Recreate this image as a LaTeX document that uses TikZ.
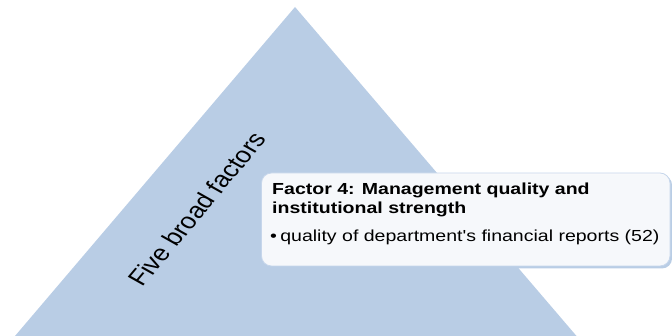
\documentclass[tikz,border=0pt]{standalone}
\usepackage{fontspec}
\setmainfont{Liberation Sans}
\definecolor{triblue}{HTML}{B9CDE5}
\definecolor{boxedge}{HTML}{C6D6EB}
\definecolor{boxfill}{HTML}{F9FAFC}
\begin{document}
\begin{tikzpicture}[x=1pt,y=-1pt,
  boxtext/.style={anchor=base west,inner sep=0pt,transform shape,font=\fontsize{16}{19}\selectfont},
  boxhead/.style={boxtext,font=\fontsize{16}{19}\selectfont\bfseries}]
\useasboundingbox (0,0) rectangle (672,336);
\begin{scope}
\clip (0,0) rectangle (672,336);
\fill[triblue] (295,7) -- (576.5,336) -- (15,336) -- cycle;
\end{scope}
\begin{scope}[xscale=1.22]
\node[transform shape,rotate=55.5,font=\fontsize{22.5}{26}\selectfont,inner sep=0pt] (lbl) at (197/1.22,209) {Five broad factors};
\end{scope}
\fill[triblue,rounded corners=10pt] (263.5,175) rectangle (672,268.5);
\fill[boxfill,fill opacity=0.96,draw=boxedge,line width=0.8pt,rounded corners=10pt] (261.5,173) rectangle (670,266);
\begin{scope}[xscale=1.22]
\node[boxhead] (h1) at (272/1.22,195) {Factor 4: Management quality and};
\node[boxhead] (h2) at (272/1.22,214) {institutional strength};
\node[boxtext] (b1) at (270/1.22,242) {\textbullet\,quality of department\textquotesingle s financial reports (52)};
\end{scope}
\end{tikzpicture}
\end{document}
